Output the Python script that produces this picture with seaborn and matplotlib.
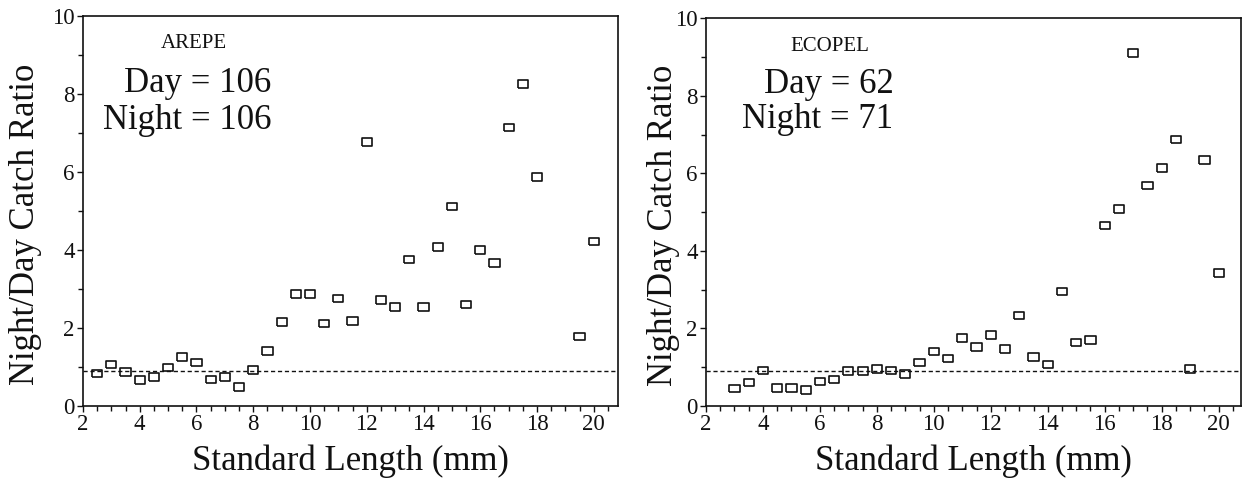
import matplotlib
matplotlib.use('Agg')
import matplotlib.pyplot as plt
from matplotlib.ticker import MultipleLocator
from matplotlib.markers import MarkerStyle
import seaborn as sns
import pandas as pd

# ── data ───────────────────────────────────────────────────────
arepe_len = [2.5, 3, 3.5, 4, 4.5, 5, 5.5, 6, 6.5, 7, 7.5, 8, 8.5, 9, 9.5, 10,
             10.5, 11, 11.5, 12, 12.5, 13, 13.5, 14, 14.5, 15, 15.5, 16, 16.5,
             17, 17.5, 18, 19.5, 20]
arepe_ratio = [0.83, 1.07, 0.87, 0.66, 0.75, 0.99, 1.26, 1.12, 0.68, 0.74, 0.49,
               0.92, 1.41, 2.15, 2.87, 2.87, 2.12, 2.76, 2.18, 6.77, 2.72, 2.54,
               3.76, 2.54, 4.08, 5.12, 2.60, 4.00, 3.66, 7.14, 8.25, 5.87, 1.78,
               4.22]

ecopel_len = [3, 3.5, 4, 4.5, 5, 5.5, 6, 6.5, 7, 7.5, 8, 8.5, 9, 9.5, 10, 10.5,
              11, 11.5, 12, 12.5, 13, 13.5, 14, 14.5, 15, 15.5, 16, 16.5, 17,
              17.5, 18, 18.5, 19, 19.5, 20]
ecopel_ratio = [0.45, 0.61, 0.92, 0.47, 0.47, 0.41, 0.63, 0.68, 0.90, 0.90, 0.96,
                0.92, 0.82, 1.12, 1.41, 1.22, 1.75, 1.52, 1.83, 1.47, 2.33, 1.26,
                1.07, 2.95, 1.64, 1.70, 4.65, 5.08, 9.10, 5.69, 6.13, 6.87, 0.96,
                6.35, 3.43]

ref_level = 0.9
panels = [
    ('AREPE', 'Day = 106', 'Night = 106', arepe_len, arepe_ratio),
    ('ECOPEL', 'Day = 62', 'Night = 71', ecopel_len, ecopel_ratio),
]

sns.set_style('ticks')
plt.rcParams['font.family'] = ['Liberation Serif', 'DejaVu Serif']
ink = '#111111'

# slightly wide open rectangle, like the scanned markers
box = MarkerStyle([(-1, -0.74), (1, -0.74), (1, 0.74), (-1, 0.74), (-1, -0.74)])

fig = plt.figure(figsize=(12.44, 4.83), dpi=100)
rects = [[0.0667, 0.1594, 0.430, 0.8075], [0.5675, 0.1594, 0.430, 0.803]]
xmax = [20.85, 20.78]
ylab_x = [-0.077, -0.049]
# label positions (data coords): species tag, counts block
tag_pos = [(5.9, 9.3), (6.35, 9.27)]
cnt_pos = [(8.65, 8.27, 7.33), (8.58, 8.3, 7.38)]

for i, (tag, day, night, x, y) in enumerate(panels):
    ax = fig.add_axes(rects[i])
    df = pd.DataFrame({'len': x, 'ratio': y})
    sns.scatterplot(data=df, x='len', y='ratio', marker=box, s=54,
                    facecolor='none', edgecolor=ink, linewidth=1.2,
                    ax=ax, zorder=3)
    ax.axhline(ref_level, color=ink, lw=1.0, ls=(0, (3, 2)), zorder=2)

    ax.set_xlim(2, xmax[i])
    ax.set_ylim(0, 10)
    ax.xaxis.set_major_locator(MultipleLocator(2))
    ax.xaxis.set_minor_locator(MultipleLocator(0.5))
    ax.yaxis.set_major_locator(MultipleLocator(2))
    ax.yaxis.set_minor_locator(MultipleLocator(1))
    ax.tick_params(axis='both', which='both', direction='out', color=ink,
                   labelcolor=ink, width=1.0, labelsize=16.5, pad=1.5)
    ax.tick_params(axis='both', which='major', length=4.5)
    ax.tick_params(axis='both', which='minor', length=3.8)
    for sp in ax.spines.values():
        sp.set_visible(True)
        sp.set_linewidth(1.2)
        sp.set_color(ink)

    ax.set_xlabel('Standard Length (mm)', fontsize=25, color=ink)
    ax.set_ylabel('Night/Day Catch Ratio', fontsize=25, color=ink)
    ax.xaxis.set_label_coords(0.5, -0.098)
    ax.yaxis.set_label_coords(ylab_x[i], 0.465)

    ax.text(tag_pos[i][0], tag_pos[i][1], tag, fontsize=15, color=ink,
            ha='center', va='center')
    ax.text(cnt_pos[i][0], cnt_pos[i][1], day, fontsize=25, color=ink,
            ha='right', va='center')
    ax.text(cnt_pos[i][0], cnt_pos[i][2], night, fontsize=25, color=ink,
            ha='right', va='center')

plt.savefig('out.png', dpi=100)
